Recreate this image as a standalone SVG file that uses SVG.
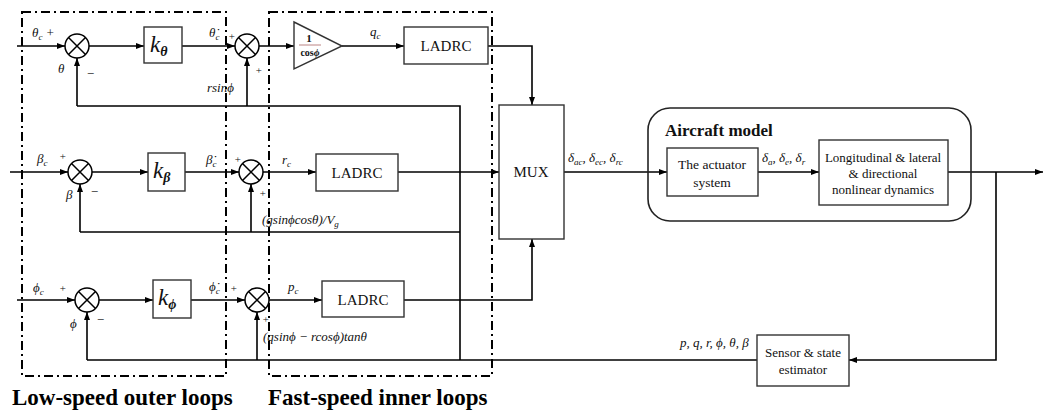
<svg xmlns="http://www.w3.org/2000/svg" width="1051" height="412" viewBox="0 0 1051 412">
<style>
.ln{stroke:#000;stroke-width:1.6;fill:none}
.box{stroke:#333;stroke-width:1.4;fill:#fff}
.dd{stroke:#000;stroke-width:2;fill:none;stroke-dasharray:9,4,2,4}
text{font-family:'Liberation Serif','Times New Roman','DejaVu Serif','Noto Serif',Times,serif;fill:#111}
.t{font-size:15px}
.t2{font-size:13px}
.m{font-style:italic;font-size:13px}
.p{font-style:italic;font-size:11px}
.s{font-size:9px}
.k{font-style:italic;font-size:23px}
.ks{font-size:14px;font-weight:bold}
.big{font-weight:bold;font-size:23px;fill:#000}
</style>
<defs>
<marker id="ar" viewBox="0 0 8 6" refX="8" refY="3" markerWidth="8" markerHeight="6" markerUnits="userSpaceOnUse" orient="auto"><path d="M0,0L8,3L0,6z" fill="#000"/></marker>
<g id="sum"><circle r="12" fill="#fff" stroke="#000" stroke-width="1.5"/><path d="M-8.5,-8.5L8.5,8.5M-8.5,8.5L8.5,-8.5" stroke="#000" stroke-width="1.5"/></g>
</defs>
<g id="connectors">
<path class="ln" d="M17,46H65" marker-end="url(#ar)"/>
<path class="ln" d="M89,46H144" marker-end="url(#ar)"/>
<path class="ln" d="M182,46H235" marker-end="url(#ar)"/>
<path class="ln" d="M259,46H294" marker-end="url(#ar)"/>
<path class="ln" d="M342,46H404" marker-end="url(#ar)"/>
<path class="ln" d="M488,46H532V105" marker-end="url(#ar)"/>
<path class="ln" d="M77,106H460V360"/>
<path class="ln" d="M77,106V58" marker-end="url(#ar)"/>
<path class="ln" d="M247,106V58" marker-end="url(#ar)"/>
<path class="ln" d="M10,172H68" marker-end="url(#ar)"/>
<path class="ln" d="M92,172H148" marker-end="url(#ar)"/>
<path class="ln" d="M185,172H239" marker-end="url(#ar)"/>
<path class="ln" d="M263,172H316" marker-end="url(#ar)"/>
<path class="ln" d="M398,172H499" marker-end="url(#ar)"/>
<path class="ln" d="M80,232H460"/>
<path class="ln" d="M80,232V184" marker-end="url(#ar)"/>
<path class="ln" d="M251,232V184" marker-end="url(#ar)"/>
<path class="ln" d="M17,300H75" marker-end="url(#ar)"/>
<path class="ln" d="M99,300H153" marker-end="url(#ar)"/>
<path class="ln" d="M191,300H245" marker-end="url(#ar)"/>
<path class="ln" d="M269,300H322" marker-end="url(#ar)"/>
<path class="ln" d="M404,300H532V239" marker-end="url(#ar)"/>
<path class="ln" d="M87,360H757"/>
<path class="ln" d="M87,360V312" marker-end="url(#ar)"/>
<path class="ln" d="M257,360V312" marker-end="url(#ar)"/>
<path class="ln" d="M564,172H667" marker-end="url(#ar)"/>
<path class="ln" d="M758,172H819" marker-end="url(#ar)"/>
<path class="ln" d="M948,172H1043" marker-end="url(#ar)"/>
<path class="ln" d="M996,172V360H849" marker-end="url(#ar)"/>
</g>
<g id="loops">
<rect class="dd" x="22" y="12" width="204" height="364"/>
<rect class="dd" x="269" y="12" width="223" height="364"/>
<text class="big" x="12" y="405">Low-speed outer loops</text>
<text class="big" x="268" y="405">Fast-speed inner loops</text>
</g>
<g id="sum1"><use href="#sum" x="77" y="46"/></g>
<g id="sum2"><use href="#sum" x="247" y="46"/></g>
<g id="sum3"><use href="#sum" x="80" y="172"/></g>
<g id="sum4"><use href="#sum" x="251" y="172"/></g>
<g id="sum5"><use href="#sum" x="87" y="300"/></g>
<g id="sum6"><use href="#sum" x="257" y="300"/></g>
<g id="ktheta"><rect class="box" x="144" y="27" width="38" height="36"/><text class="k" x="150" y="52">k<tspan class="ks" dy="4">θ</tspan></text></g>
<g id="kbeta"><rect class="box" x="148" y="153" width="37" height="38"/><text class="k" x="153" y="178">k<tspan class="ks" dy="4">β</tspan></text></g>
<g id="kphi"><rect class="box" x="153" y="280" width="38" height="38"/><text class="k" x="158" y="305">k<tspan class="ks" dy="4">ϕ</tspan></text></g>
<g id="gain"><path d="M294,22L342,46L294,69z" fill="#fff" stroke="#333" stroke-width="1.4"/>
<text x="309" y="42" text-anchor="middle" style="font-weight:bold;font-size:11px">1</text>
<path d="M299,45H321" stroke="#a66" stroke-width="0.8"/>
<text x="310" y="56" text-anchor="middle" style="font-weight:bold;font-size:10px">cos<tspan style="font-style:italic">ϕ</tspan></text></g>
<g id="ladrc1"><rect class="box" x="404" y="27" width="84" height="37"/><text class="t" x="446" y="51" text-anchor="middle">LADRC</text></g>
<g id="ladrc2"><rect class="box" x="316" y="154" width="82" height="37"/><text class="t" x="357" y="178" text-anchor="middle">LADRC</text></g>
<g id="ladrc3"><rect class="box" x="322" y="281" width="82" height="36"/><text class="t" x="363" y="305" text-anchor="middle">LADRC</text></g>
<g id="mux"><rect class="box" x="499" y="105" width="65" height="134"/><text class="t" x="531" y="177" text-anchor="middle">MUX</text></g>
<g id="aircraft"><rect x="648" y="108" width="323" height="113" rx="22" fill="none" stroke="#222" stroke-width="1.6"/>
<text x="665" y="136" style="font-weight:bold;font-size:17px">Aircraft model</text></g>
<g id="actuator"><rect class="box" x="667" y="148" width="91" height="48"/><text x="712" y="169" text-anchor="middle" style="font-size:13.5px">The actuator</text><text x="712" y="187" text-anchor="middle" style="font-size:13.5px">system</text></g>
<g id="dynamics"><rect class="box" x="819" y="140" width="129" height="65"/>
<text class="t2" x="883" y="162" text-anchor="middle">Longitudinal &amp; lateral</text>
<text class="t2" x="883" y="178" text-anchor="middle">&amp; directional</text>
<text class="t2" x="883" y="194" text-anchor="middle">nonlinear dynamics</text></g>
<g id="sensor"><rect class="box" x="757" y="335" width="92" height="51"/><text class="t2" x="803" y="357" text-anchor="middle">Sensor &amp; state</text><text class="t2" x="803" y="374" text-anchor="middle">estimator</text></g>
<g id="labels">
<text class="m" x="32" y="37">θ<tspan class="s" dy="3">c</tspan><tspan dy="-3"> +</tspan></text>
<text class="m" x="58" y="73">θ</text><text class="m" x="86" y="78">−</text>
<text class="m" x="209" y="37">θ̇<tspan class="s" dy="3">c</tspan></text><text class="p" x="228" y="40">+</text>
<text class="m" x="207" y="92">rsinϕ</text><text class="p" x="255" y="74">+</text>
<text class="m" x="370" y="36">q<tspan class="s" dy="3">c</tspan></text>
<text class="m" x="37" y="163">β<tspan class="s" dy="3">c</tspan></text><text class="p" x="59" y="160">+</text>
<text class="m" x="66" y="199">β</text><text class="m" x="90" y="196">−</text>
<text class="m" x="206" y="164">β̇<tspan class="s" dy="3">c</tspan></text><text class="p" x="234" y="163">+</text>
<text class="p" x="259" y="197">+</text>
<text class="m" x="282" y="164">r<tspan class="s" dy="3">c</tspan></text>
<text class="m" x="262" y="224">(gsinϕcosθ)/V<tspan class="s" dy="3">g</tspan></text>
<text class="m" x="33" y="292">ϕ<tspan class="s" dy="3">c</tspan></text><text class="p" x="59" y="292">+</text>
<text class="m" x="70" y="328">ϕ</text><text class="m" x="96" y="324">−</text>
<text class="m" x="209" y="291">ϕ̇<tspan class="s" dy="3">c</tspan></text><text class="p" x="230" y="292">+</text>
<text class="p" x="262" y="323">+</text>
<text class="m" x="288" y="291">p<tspan class="s" dy="3">c</tspan></text>
<text class="m" x="263" y="341">(qsinϕ − rcosϕ)tanθ</text>
<text class="m" x="568" y="162">δ<tspan class="s" dy="3">ac</tspan><tspan dy="-3">, δ</tspan><tspan class="s" dy="3">ec</tspan><tspan dy="-3">, δ</tspan><tspan class="s" dy="3">rc</tspan></text>
<text class="m" x="762" y="162">δ<tspan class="s" dy="3">a</tspan><tspan dy="-3">, δ</tspan><tspan class="s" dy="3">e</tspan><tspan dy="-3">, δ</tspan><tspan class="s" dy="3">r</tspan></text>
<text class="m" x="680" y="347">p, q, r, ϕ, θ, β</text>
</g>
</svg>
